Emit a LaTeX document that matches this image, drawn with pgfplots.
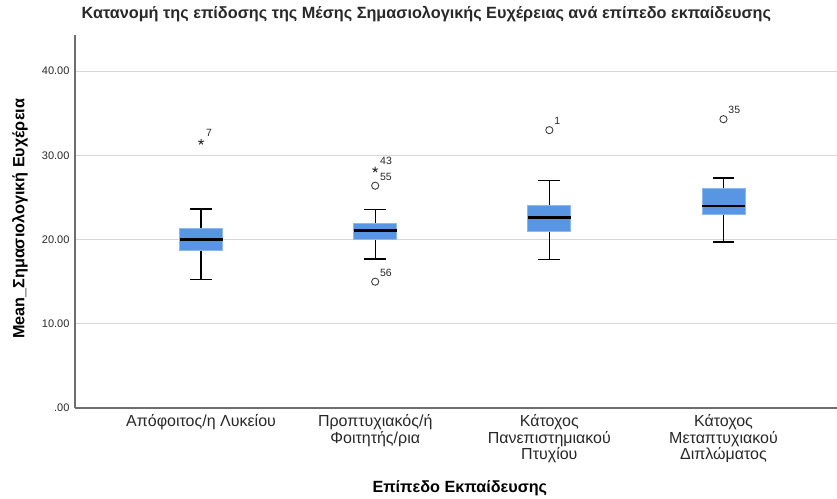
\documentclass[border=0pt]{standalone}
\usepackage{fontspec}
\setmainfont{Liberation Sans}
\usepackage{pgfplots}
\pgfplotsset{compat=1.18}
\usepgfplotslibrary{statistics}
\definecolor{boxblue}{RGB}{88,150,228}
\definecolor{boxedge}{RGB}{140,184,238}
\definecolor{gridc}{RGB}{214,214,214}
\definecolor{axisc}{RGB}{110,110,110}
\definecolor{txt}{RGB}{40,40,40}
\begin{document}
\begin{tikzpicture}
\useasboundingbox (0,0) rectangle (837pt,498pt);
\begin{axis}[
  at={(75pt,90pt)}, anchor=south west,
  scale only axis, width=762pt, height=373pt,
  xmin=0.276, xmax=4.652, ymin=0, ymax=44.3,
  axis x line=bottom, axis y line=left,
  axis line style={-, draw=axisc, line width=1.1pt},
  major tick length=0pt,
  ytick={0,10,20,30,40},
  yticklabels={.00,10.00,20.00,30.00,40.00},
  yticklabel style={font=\fontsize{11}{13}\selectfont, text=txt, xshift=-2pt},
  ymajorgrids, grid style={draw=gridc, line width=1pt},
  xtick={1,2,3,4},
  xticklabels={{Απόφοιτος/η Λυκείου},{Προπτυχιακός/ή\\Φοιτητής/ρια},{Κάτοχος\\Πανεπιστημιακού\\Πτυχίου},{Κάτοχος\\Μεταπτυχιακού\\Διπλώματος}},
  xticklabel style={font=\fontsize{16}{16.5}\selectfont, text=txt, align=center, anchor=north, yshift=-3pt},
  title={Κατανομή της επίδοσης της Μέσης Σημασιολογικής Ευχέρειας ανά επίπεδο εκπαίδευσης},
  title style={font=\bfseries\fontsize{16.25}{18}\selectfont, text=txt, at={(axis description cs:0.461,1.040)}, anchor=center},
  xlabel={Επίπεδο Εκπαίδευσης},
  xlabel style={font=\bfseries\fontsize{16.2}{18}\selectfont, text=black, at={(axis description cs:0.505,-0.2145)}, anchor=center},
  ylabel={Mean\_Σημασιολογική Ευχέρεια},
  ylabel style={font=\bfseries\fontsize{16.2}{18}\selectfont, text=black, at={(axis description cs:-0.0722,0.507)}, anchor=center},
  boxplot/draw direction=y,
  boxplot/box extend=0.247,
  boxplot/whisker extend=0.126,
  boxplot/every box/.style={fill=boxblue, draw=boxedge, line width=0.8pt},
  boxplot/every median/.style={draw=black, line width=2.6pt},
  boxplot/every whisker/.style={draw=black, line width=1.3pt},
  clip=false,
]
\addplot[boxplot prepared={draw position=1, lower whisker=15.3, lower quartile=18.7, median=20.0, upper quartile=21.3, upper whisker=23.65}] coordinates {};
\addplot[boxplot prepared={draw position=2, lower whisker=17.7, lower quartile=20.0, median=21.05, upper quartile=21.9, upper whisker=23.6}] coordinates {};
\addplot[boxplot prepared={draw position=3, lower whisker=17.65, lower quartile=21.0, median=22.6, upper quartile=24.1, upper whisker=27.0}] coordinates {};
\addplot[boxplot prepared={draw position=4, lower whisker=19.7, lower quartile=23.0, median=24.0, upper quartile=26.1, upper whisker=27.3}] coordinates {};
\addplot[only marks, mark=o, mark size=3.6pt, mark options={draw=black!75, line width=0.9pt},
  point meta=explicit symbolic, nodes near coords,
  nodes near coords style={font=\fontsize{10.5}{11}\selectfont, text=txt, anchor=south west, inner sep=0pt, xshift=4.5pt, yshift=5pt}]
  coordinates {(2,26.4)[55] (2,15.0)[56] (3,33.0)[1] (4,34.3)[35]};
\addplot[only marks, mark=star, mark size=3pt, mark options={draw=black!80, line width=1pt},
  point meta=explicit symbolic, nodes near coords,
  nodes near coords style={font=\fontsize{10.5}{11}\selectfont, text=txt, anchor=south west, inner sep=0pt, xshift=4.5pt, yshift=5pt}]
  coordinates {(1,31.6)[7] (2,28.3)[43]};
\end{axis}
\end{tikzpicture}
\end{document}
